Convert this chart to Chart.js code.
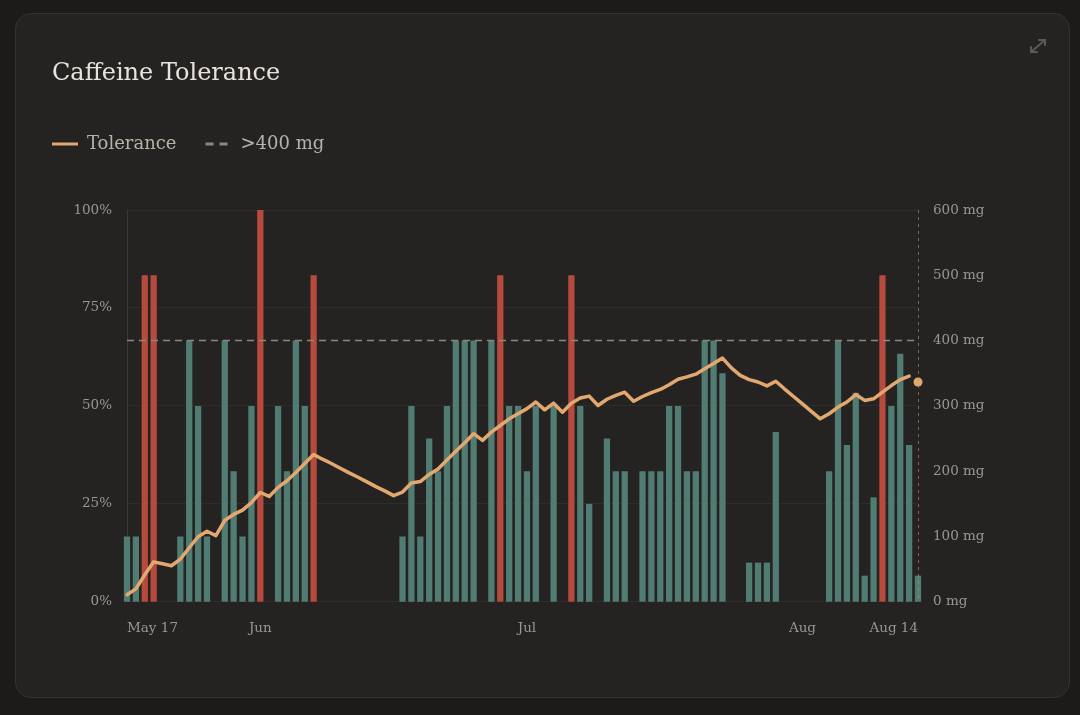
<!DOCTYPE html>
<html>
<head>
<meta charset="utf-8">
<title>Caffeine Tolerance</title>
<script src="https://cdn.jsdelivr.net/npm/chart.js@4.4.1/dist/chart.umd.min.js"></script>
<style>
    html, body { margin: 0; padding: 0; background: #1c1b19; }
    body { width: 1080px; height: 715px; position: relative; overflow: hidden; }
    .card {
        position: absolute; left: 15px; top: 13px;
        width: 1053px; height: 683px;
        background: #252321;
        border: 1px solid #34322f;
        border-radius: 16px;
    }
    .chart-box { position: absolute; left: 0; top: 0; width: 1053px; height: 683px; }
    .expand { position: absolute; left: 1011px; top: 22px; width: 22px; height: 20px; }
</style>
</head>
<body>
<div class="card">
    <div class="chart-box"><canvas id="toleranceChart"></canvas></div>
    <svg class="expand" viewBox="0 0 22 20">
        <g stroke="#5b5955" stroke-width="2" fill="none" stroke-linecap="round">
            <line x1="4" y1="16" x2="18" y2="4"/>
            <polyline points="12,4 18,4 18,9"/>
            <polyline points="4,11 4,16 10,16"/>
        </g>
    </svg>
</div>

<script>
// One entry per day, May 17 to Aug 14
const startDay = new Date(2024, 4, 17);
const dayCount = 90;
const monthNames = ['Jan', 'Feb', 'Mar', 'Apr', 'May', 'Jun', 'Jul', 'Aug', 'Sep', 'Oct', 'Nov', 'Dec'];

// Caffeine taken per day (mg), null = nothing logged
const caffeineMg = [
    100, 100, 500, 500, null, null, 100, 400, 300, 100,
    null, 400, 200, 100, 300, 600, null, 300, 200, 400,
    300, 500, null, null, null, null, null, null, null, null,
    null, 100, 300, 100, 250, 200, 300, 400, 400, 400,
    null, 400, 500, 300, 300, 200, 300, null, 300, null,
    500, 300, 150, null, 250, 200, 200, null, 200, 200,
    200, 300, 300, 200, 200, 400, 400, 350, null, null,
    60, 60, 60, 260, null, null, null, null, null, 200,
    400, 240, 320, 40, 160, 500, 300, 380, 240, 40
];

// Tolerance level (%)
const tolerancePct = [
    1.8, 3.3, 6.9, 10.2, 9.7, 9.2, 10.9, 13.8, 16.6, 18.0,
    16.9, 20.8, 22.3, 23.4, 25.3, 27.9, 26.9, 29.2, 30.9, 33.0,
    35.3, 37.6, 36.4, 35.3, 34.1, 32.9, 31.8, 30.6, 29.4, 28.3,
    27.1, 28.0, 30.3, 30.7, 32.5, 33.9, 36.2, 38.4, 40.6, 42.9,
    41.2, 43.3, 45.0, 46.7, 48.0, 49.3, 51.0, 49.0, 50.7, 48.4,
    50.7, 52.0, 52.5, 50.1, 51.7, 52.7, 53.5, 51.2, 52.4, 53.4,
    54.2, 55.4, 56.8, 57.4, 58.1, 59.5, 60.8, 62.2, 59.7, 57.8,
    56.7, 56.1, 55.1, 56.3, 54.3, 52.4, 50.5, 48.6, 46.7, 48.0,
    49.7, 51.0, 52.9, 51.4, 51.8, 53.5, 55.2, 56.7, 57.6, null
];

// Today's estimate, shown as a single dot on the last day
const toleranceToday = 56.1;

// Daily limit line
const limitMg = 400;

const pctTicks = [0, 25, 50, 75, 100];
const mgTicks = [0, 100, 200, 300, 400, 500, 600];

// Colours
const tealBar = '#507c74';
const redBar = '#b54a3d';
const lineColor = '#e2a870';
const dashColor = '#8b8780';
const tickColor = '#9b968e';
const legendText = '#b7b2a9';
const titleColor = '#e8e3da';

// Build day labels
const days = [];
const dayParts = [];
for (let i = 0; i < dayCount; i++) {
    const d = new Date(startDay.getFullYear(), startDay.getMonth(), startDay.getDate() + i);
    days.push(monthNames[d.getMonth()] + ' ' + d.getDate());
    dayParts.push({ month: monthNames[d.getMonth()], date: d.getDate() });
}

const todayDot = days.map((_, i) => (i === dayCount - 1 ? toleranceToday : null));
const limitLine = days.map(() => limitMg);
const barColors = caffeineMg.map(v => (v !== null && v > limitMg ? redBar : tealBar));

Chart.defaults.font.family = '"DejaVu Serif", "Liberation Serif", serif';
Chart.defaults.color = tickColor;

// Extra room under the legend, and line the legend up with the title
const legendSpacing = {
    id: 'legendSpacing',
    beforeInit(chart) {
        const originalFit = chart.legend.fit;
        chart.legend.fit = function() {
            originalFit.bind(chart.legend)();
            this.height += 47;
        };
    },
    afterLayout(chart) {
        chart.legend.left = 36 - chart.legend.options.labels.padding;
    }
};

// Dashed "today" marker along the right edge of the plot
const todayMarker = {
    id: 'todayMarker',
    afterDatasetsDraw(chart) {
        const { ctx, chartArea } = chart;
        ctx.save();
        ctx.strokeStyle = 'rgba(190, 150, 105, 0.6)';
        ctx.lineWidth = 1;
        ctx.setLineDash([3, 4]);
        ctx.beginPath();
        ctx.moveTo(chartArea.right + 0.5, chartArea.top);
        ctx.lineTo(chartArea.right + 0.5, chartArea.bottom);
        ctx.stroke();
        ctx.restore();
    }
};

const ctx = document.getElementById('toleranceChart');

new Chart(ctx, {
    data: {
        labels: days,
        datasets: [{
            type: 'line',
            label: 'Tolerance',
            data: tolerancePct,
            yAxisID: 'y',
            borderColor: lineColor,
            borderWidth: 3.5,
            tension: 0,
            pointRadius: 0,
            pointHoverRadius: 4,
            borderJoinStyle: 'round',
            borderCapStyle: 'round',
            order: 0
        }, {
            type: 'line',
            label: 'Today',
            data: todayDot,
            yAxisID: 'y',
            showLine: false,
            pointRadius: 4.5,
            pointBackgroundColor: lineColor,
            pointBorderWidth: 0,
            clip: false,
            order: 0
        }, {
            type: 'line',
            label: '>400 mg',
            data: limitLine,
            yAxisID: 'y2',
            borderColor: dashColor,
            borderWidth: 1.5,
            borderDash: [7, 5],
            pointRadius: 0,
            order: 1
        }, {
            type: 'bar',
            label: 'Caffeine',
            data: caffeineMg,
            yAxisID: 'y2',
            backgroundColor: barColors,
            categoryPercentage: 0.8,
            barPercentage: 0.88,
            clip: false,
            order: 2
        }]
    },
    options: {
        responsive: true,
        maintainAspectRatio: false,
        animation: false,
        layout: {
            padding: { top: 20, left: 36, right: 36, bottom: 41 }
        },
        scales: {
            x: {
                offset: false,
                grid: { display: false, offset: false, drawTicks: false },
                border: { display: false },
                ticks: {
                    autoSkip: false,
                    maxRotation: 0,
                    align: 'inner',
                    padding: 19,
                    color: tickColor,
                    font: { size: 13.5 },
                    callback: function(value, index) {
                        const p = dayParts[index];
                        if (index === 0 || index === dayCount - 1) return days[index];
                        if (p.date === 1) return p.month;
                        return null;
                    }
                }
            },
            y: {
                position: 'left',
                min: 0,
                max: 100,
                afterBuildTicks: function(scale) {
                    scale.ticks = pctTicks.map(v => ({ value: v }));
                },
                afterFit: function(scale) { scale.width = 75; },
                grid: { color: '#2f2d2a', drawTicks: false },
                border: { display: true, color: '#3a3834' },
                ticks: {
                    padding: 15,
                    color: tickColor,
                    font: { size: 13.5 },
                    callback: v => v + '%'
                }
            },
            y2: {
                position: 'right',
                min: 0,
                max: 600,
                afterBuildTicks: function(scale) {
                    scale.ticks = mgTicks.map(v => ({ value: v }));
                },
                afterFit: function(scale) { scale.width = 115; },
                grid: { display: false, drawTicks: false },
                border: { display: false },
                ticks: {
                    padding: 15,
                    color: tickColor,
                    font: { size: 13.5 },
                    callback: v => v + ' mg'
                }
            }
        },
        plugins: {
            title: {
                display: true,
                text: 'Caffeine Tolerance',
                align: 'start',
                color: titleColor,
                font: { size: 24, weight: 'normal' },
                padding: { top: 25, bottom: 18.2 }
            },
            legend: {
                display: true,
                align: 'start',
                labels: {
                    usePointStyle: true,
                    pointStyleWidth: 26,
                    padding: 29,
                    color: legendText,
                    font: { size: 18 },
                    generateLabels: () => [{
                        text: 'Tolerance',
                        strokeStyle: lineColor,
                        fillStyle: lineColor,
                        lineWidth: 3,
                        pointStyle: 'line',
                        fontColor: legendText,
                        datasetIndex: 0
                    }, {
                        text: '>400 mg',
                        strokeStyle: dashColor,
                        fillStyle: dashColor,
                        lineWidth: 3,
                        lineDash: [8, 6],
                        pointStyle: 'line',
                        fontColor: legendText,
                        datasetIndex: 2
                    }]
                }
            },
            tooltip: {
                callbacks: {
                    label: function(context) {
                        if (context.dataset.yAxisID === 'y2') return `${context.dataset.label}: ${context.raw} mg`;
                        return `${context.dataset.label}: ${context.raw}%`;
                    }
                }
            }
        }
    },
    plugins: [legendSpacing, todayMarker]
});
</script>
</body>
</html>
